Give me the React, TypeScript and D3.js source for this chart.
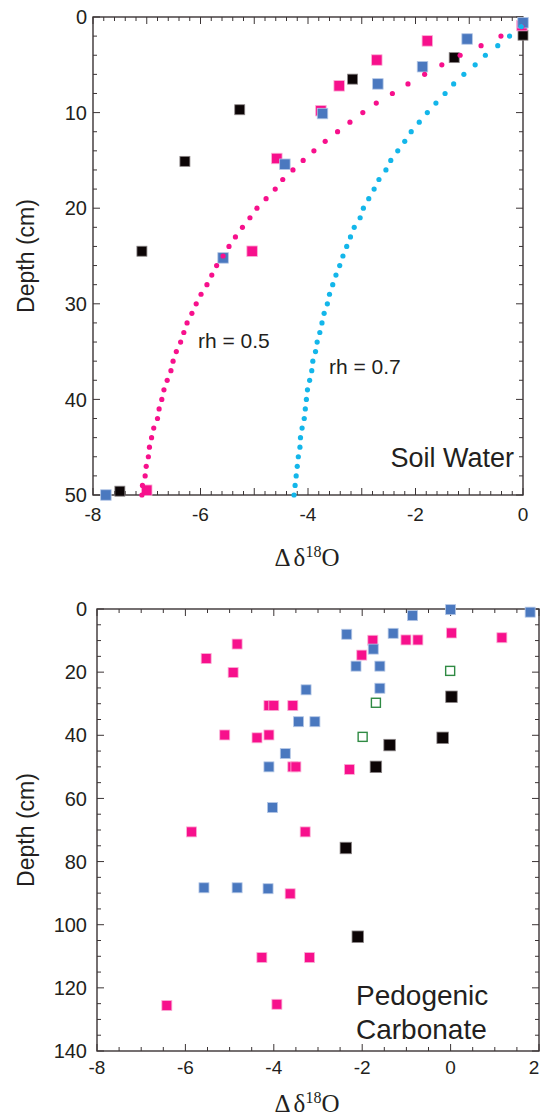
import * as d3 from 'd3'
import React, { useEffect, useRef } from 'react'

// model curves (soil water), depth in cm
const curveDepths = [1, 2, 3, 4, 5, 6, 7, 8, 9, 10, 11, 12, 13, 14, 15, 16, 17, 18, 19, 20, 21, 22, 23, 24, 25,
  26, 27, 28, 29, 30, 31, 32, 33, 34, 35, 36, 37, 38, 39, 40, 41, 42, 43, 44, 45, 46, 47, 48, 49, 50]
const rh05 = [-0.02, -0.41, -0.78, -1.17, -1.51, -1.83, -2.14, -2.43, -2.73, -2.98, -3.22, -3.45, -3.68, -3.89, -4.09,
  -4.28, -4.47, -4.61, -4.78, -4.95, -5.08, -5.22, -5.35, -5.47, -5.58, -5.70, -5.79, -5.88, -5.99, -6.08, -6.16,
  -6.25, -6.31, -6.37, -6.45, -6.51, -6.55, -6.62, -6.68, -6.72, -6.77, -6.80, -6.87, -6.91, -6.95, -6.97, -7.01,
  -7.03, -7.08, -7.09]
const rh07 = [-0.03, -0.25, -0.47, -0.70, -0.89, -1.10, -1.29, -1.45, -1.62, -1.78, -1.93, -2.08, -2.20, -2.33, -2.46,
  -2.55, -2.68, -2.77, -2.87, -2.97, -3.03, -3.14, -3.21, -3.28, -3.35, -3.41, -3.48, -3.54, -3.60, -3.64, -3.70,
  -3.74, -3.78, -3.83, -3.86, -3.91, -3.93, -3.97, -4.01, -4.03, -4.05, -4.07, -4.11, -4.14, -4.15, -4.18, -4.20,
  -4.22, -4.24, -4.26]

// soil water measurements [Δδ18O, depth]
const soilBlack = [[0, 1.9], [-1.28, 4.25], [-3.17, 6.5], [-5.27, 9.7], [-6.29, 15.1], [-7.09, 24.5], [-7.5, 49.6]]
const soilPink = [[-0.02, 0.9], [-1.78, 2.5], [-2.72, 4.5], [-3.42, 7.2], [-3.76, 9.8], [-4.58, 14.8], [-5.04, 24.5], [-7.0, 49.5]]
const soilBlue = [[0, 0.6], [-1.04, 2.3], [-1.87, 5.2], [-2.7, 7.0], [-3.73, 10.1], [-4.43, 15.4], [-5.58, 25.2], [-7.76, 50]]

// pedogenic carbonate [Δδ18O, depth]
const carbPink = [[0.02, 7.6], [1.16, 9.1], [-1.76, 9.9], [-1.01, 9.8], [-0.74, 9.8], [-4.83, 11.1], [-5.53, 15.7],
  [-2.01, 14.6], [-4.92, 20.1], [-4.11, 30.6], [-4.0, 30.6], [-3.57, 30.6], [-5.11, 39.9], [-4.11, 39.9], [-4.38, 40.8],
  [-3.57, 50], [-3.5, 50], [-2.29, 50.8], [-5.86, 70.6], [-3.29, 70.6], [-3.63, 90.2], [-4.27, 110.4], [-3.19, 110.4],
  [-6.42, 125.6], [-3.93, 125.2]]
const carbBlue = [[0, 0.2], [1.8, 1.0], [-0.86, 2.1], [-2.35, 8.0], [-1.3, 7.7], [-1.75, 12.7], [-2.14, 18.1],
  [-1.6, 18.1], [-1.6, 25.1], [-3.27, 25.6], [-3.44, 35.7], [-3.07, 35.7], [-3.74, 45.8], [-4.11, 50],
  [-4.03, 62.9], [-5.58, 88.3], [-4.83, 88.3], [-4.13, 88.6]]
const carbBlack = [[0.02, 27.8], [-0.18, 40.8], [-1.38, 43.1], [-1.69, 50], [-2.37, 75.7], [-2.1, 103.8]]
const carbGreen = [[-0.01, 19.6], [-1.69, 29.7], [-1.99, 40.5]]

const soilXLabels = [-8, -6, -4, -2, 0]
const soilYLabels = [0, 10, 20, 30, 40, 50]
const carbXLabels = [-8, -6, -4, -2, 0, 2]
const carbYLabels = [0, 20, 40, 60, 80, 100, 120, 140]

const axisColor = '#3b3435'
const textColor = '#231f20'
const pink = '#f7108c'
const blue = '#4a78bf'
const cyan = '#13b6ea'
const sans = 'Liberation Sans, Arial, Helvetica, sans-serif'
const serif = 'Liberation Serif, Times New Roman, serif'

const frame = (g, x, y, xMajor, xMinor, yMajor, yMinor, xLabels, yLabels, xLabelDy) => {
  const [x0, x1] = x.range()
  const [y0, y1] = y.range()
  const [dx0, dx1] = x.domain()
  const [dy0, dy1] = y.domain()
  const isMajor = (v, step) => Math.abs(v / step - Math.round(v / step)) < 1e-6

  const xt = d3.range(0, Math.round((dx1 - dx0) / xMinor) + 1).map(i => dx0 + i * xMinor)
  const yt = d3.range(0, Math.round((dy1 - dy0) / yMinor) + 1).map(i => dy0 + i * yMinor)

  g.selectAll('line.xt').data(xt).enter().append('line')
    .attr('x1', d => x(d)).attr('x2', d => x(d))
    .attr('y1', y1).attr('y2', d => y1 - (isMajor(d, xMajor) ? 7 : 4))
    .attr('stroke', axisColor).attr('stroke-width', 1)
  g.selectAll('line.xt2').data(xt).enter().append('line')
    .attr('x1', d => x(d)).attr('x2', d => x(d))
    .attr('y1', y0).attr('y2', d => y0 + (isMajor(d, xMajor) ? 7 : 4))
    .attr('stroke', axisColor).attr('stroke-width', 1)
  g.selectAll('line.yt').data(yt).enter().append('line')
    .attr('y1', d => y(d)).attr('y2', d => y(d))
    .attr('x1', x0).attr('x2', d => x0 + (isMajor(d, yMajor) ? 7 : 4))
    .attr('stroke', axisColor).attr('stroke-width', 1)
  g.selectAll('line.yt2').data(yt).enter().append('line')
    .attr('y1', d => y(d)).attr('y2', d => y(d))
    .attr('x1', x1).attr('x2', d => x1 - (isMajor(d, yMajor) ? 7 : 4))
    .attr('stroke', axisColor).attr('stroke-width', 1)

  g.append('rect')
    .attr('x', x0).attr('y', y0).attr('width', x1 - x0).attr('height', y1 - y0)
    .attr('fill', 'none').attr('stroke', axisColor).attr('stroke-width', 1.4)

  // the last label sits on the right edge, keep it inside the page
  g.selectAll('text.xl').data(xLabels).enter().append('text')
    .attr('x', d => Math.min(x(d), 534)).attr('y', y1 + xLabelDy)
    .attr('text-anchor', 'middle')
    .style('font-family', sans).style('font-size', '19px').style('fill', textColor)
    .text(d => d)
  g.selectAll('text.yl').data(yLabels).enter().append('text')
    .attr('x', 87).attr('y', d => y(d)).attr('dy', '0.36em')
    .attr('text-anchor', 'end')
    .style('font-family', sans).style('font-size', '20px').style('fill', textColor)
    .text(d => d)
}

const squares = (g, data, x, y, size, fill, stroke) => {
  g.append('g').selectAll('rect').data(data).enter().append('rect')
    .attr('x', d => x(d[0]) - size / 2).attr('y', d => y(d[1]) - size / 2)
    .attr('width', size).attr('height', size)
    .attr('fill', fill).attr('stroke', stroke).attr('stroke-width', 0.8)
}

const titles = (g, cx, baseline, midY) => {
  const t = g.append('text').attr('x', cx).attr('y', baseline).attr('text-anchor', 'middle')
    .style('font-family', serif).style('font-size', '25px').style('fill', textColor)
  t.append('tspan').text('Δ')
  t.append('tspan').attr('dx', 3).text('δ')
  t.append('tspan').attr('dy', -9).style('font-size', '16px').text('18')
  t.append('tspan').attr('dy', 9).text('O')

  g.append('text')
    .attr('transform', `translate(34,${midY}) rotate(-90)`)
    .attr('text-anchor', 'middle')
    .style('font-family', sans).style('font-size', '23px').style('fill', textColor)
    .text('Depth (cm)')
}

export default function App() {
  const ref = useRef(null)

  useEffect(() => {
    const svg = d3.select(ref.current)
    svg.selectAll('*').remove()

    // soil water
    const x1 = d3.scaleLinear().domain([-8, 0]).range([93, 523])
    const y1 = d3.scaleLinear().domain([0, 50]).range([17, 495])
    const top = svg.append('g')
    frame(top, x1, y1, 1, 0.2, 10, 2, soilXLabels, soilYLabels, 26)
    squares(top, soilBlack, x1, y1, 10, '#0c0506', '#8c8687')
    squares(top, soilPink, x1, y1, 10.5, pink, '#fbb0d6')
    squares(top, soilBlue, x1, y1, 10.5, blue, '#b4c7e6')

    const curves = [{ vals: rh05, color: pink }, { vals: rh07, color: cyan }]
    curves.forEach(c => {
      top.append('g').selectAll('circle').data(c.vals).enter().append('circle')
        .attr('cx', d => x1(d)).attr('cy', (d, i) => y1(curveDepths[i]))
        .attr('r', 2.6).attr('fill', c.color)
    })

    top.append('text').attr('x', 198).attr('y', 348)
      .style('font-family', sans).style('font-size', '21px').style('fill', textColor).text('rh = 0.5')
    top.append('text').attr('x', 329).attr('y', 374)
      .style('font-family', sans).style('font-size', '21px').style('fill', textColor).text('rh = 0.7')
    top.append('text').attr('x', 514).attr('y', 467).attr('text-anchor', 'end')
      .style('font-family', sans).style('font-size', '27px').style('fill', textColor).text('Soil Water')
    titles(top, 307, 566, 256)

    // pedogenic carbonate
    const x2 = d3.scaleLinear().domain([-8, 2]).range([97, 539])
    const y2 = d3.scaleLinear().domain([0, 140]).range([609, 1051])
    const bot = svg.append('g')
    frame(bot, x2, y2, 2, 0.5, 20, 5, carbXLabels, carbYLabels, 23)
    squares(bot, carbPink, x2, y2, 10, pink, '#fbb0d6')
    squares(bot, carbBlue, x2, y2, 10, blue, '#b4c7e6')
    squares(bot, carbBlack, x2, y2, 11.5, '#0c0506', '#8c8687')
    bot.append('g').selectAll('rect').data(carbGreen).enter().append('rect')
      .attr('x', d => x2(d[0]) - 4.5).attr('y', d => y2(d[1]) - 4.5)
      .attr('width', 9).attr('height', 9)
      .attr('fill', '#fff').attr('stroke', '#2f8a43').attr('stroke-width', 1.4)

    const lab = bot.append('text').style('font-family', sans).style('font-size', '28px').style('fill', textColor)
    lab.append('tspan').attr('x', 356).attr('y', 1005).text('Pedogenic')
    lab.append('tspan').attr('x', 356).attr('y', 1039).text('Carbonate')
    titles(bot, 307, 1112, 830)
  }, [])

  return (
    <svg ref={ref} width={540} height={1120}
      style={{ position: 'absolute', left: 0, top: 0, display: 'block', background: '#fff' }} />
  )
}
